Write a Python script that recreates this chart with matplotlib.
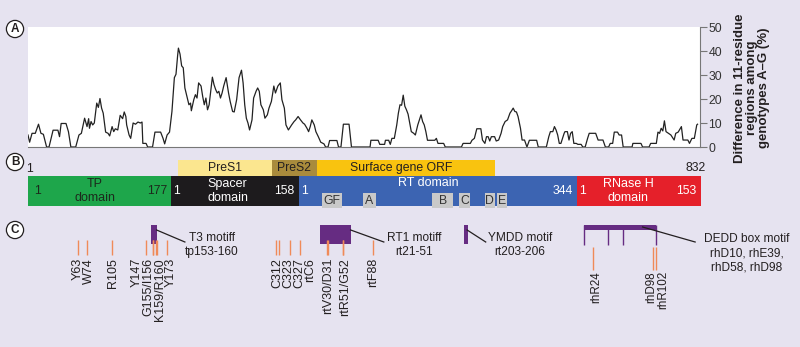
import matplotlib
matplotlib.use("Agg")
import matplotlib.pyplot as plt

plt.rcParams["font.family"] = ["Liberation Sans", "DejaVu Sans"]

# ---- panel A: variability of 11-residue windows along the polymerase ----
pos = [1, 3, 6, 10, 14, 17, 20, 24, 27, 32,
       38, 40, 42, 48, 51, 54, 60, 64, 67, 71,
       74, 76, 77, 79, 81, 83, 86, 88, 90, 92,
       94, 97, 100, 102, 105, 107, 109, 112, 115, 118,
       120, 122, 123, 126, 128, 131, 134, 137, 140, 142,
       143, 147, 149, 155, 158, 165, 168, 170, 173, 176,
       179, 182, 184, 186, 187, 189, 191, 193, 195, 198,
       200, 202, 203, 206, 208, 210, 212, 215, 217, 219,
       221, 223, 225, 227, 229, 231, 233, 235, 237, 239,
       241, 243, 246, 249, 251, 254, 256, 259, 262, 265,
       267, 269, 271, 273, 275, 278, 280, 283, 285, 287,
       289, 292, 294, 297, 299, 302, 305, 307, 310, 313,
       315, 318, 320, 323, 327, 330, 332, 335, 338, 341,
       343, 346, 348, 350, 352, 355, 357, 360, 363, 367,
       369, 372, 374, 383, 385, 388, 391, 398, 401, 424,
       425, 434, 436, 442, 443, 447, 449, 451, 454, 457,
       459, 461, 463, 465, 467, 469, 471, 473, 475, 478,
       480, 483, 485, 487, 489, 491, 493, 495, 504, 506,
       508, 515, 517, 537, 539, 548, 550, 553, 556, 561,
       563, 566, 568, 570, 572, 574, 578, 580, 583, 586,
       588, 591, 594, 597, 599, 601, 603, 605, 607, 610,
       612, 615, 618, 621, 630, 632, 642, 645, 647, 650,
       652, 654, 656, 658, 660, 664, 665, 668, 670, 672,
       674, 676, 679, 681, 685, 687, 690, 693, 695, 700,
       703, 706, 712, 715, 719, 721, 724, 726, 730, 732,
       735, 737, 748, 749, 759, 761, 769, 771, 778, 780,
       782, 784, 786, 788, 790, 793, 796, 800, 802, 805,
       809, 811, 813, 817, 819, 822, 825, 828, 829]
diff = [5.0, 2.0, 5.7, 5.7, 9.5, 5.7, 5.3, 0, 0, 7.0,
        7.0, 4.3, 9.8, 9.8, 6.4, 0, 0, 5.0, 5.7, 12.0,
        8.5, 11.8, 7.8, 10.6, 9.2, 10.0, 18.3, 16.5, 20.2, 16.2,
        14.1, 6.2, 5.7, 4.6, 8.5, 6.4, 7.6, 7.1, 13.2, 11.8,
        14.6, 12.7, 9.2, 5.0, 3.6, 10.0, 9.5, 10.4, 10.0, 10.4,
        1.5, 1.5, 0, 0, 6.2, 6.2, 3.6, 1.3, 5.0, 6.2,
        14.8, 28.9, 30.3, 38.0, 41.2, 38.7, 33.8, 33.0, 24.6, 20.4,
        17.6, 18.3, 15.1, 19.7, 21.8, 20.4, 26.7, 25.4, 21.1, 17.6,
        20.4, 15.5, 17.6, 23.2, 29.1, 26.0, 24.0, 22.5, 23.2, 20.4,
        22.5, 25.4, 28.9, 22.5, 19.0, 14.8, 14.6, 19.7, 28.9, 32.0,
        26.7, 17.6, 12.0, 10.0, 7.1, 11.3, 20.4, 23.2, 24.6, 23.2,
        17.6, 15.5, 12.0, 13.4, 16.2, 19.0, 25.4, 22.5, 25.4, 26.7,
        19.7, 16.2, 9.2, 7.1, 9.2, 10.6, 11.3, 12.7, 11.3, 10.0,
        9.5, 7.8, 6.4, 8.5, 11.3, 9.2, 6.4, 4.3, 2.0, 1.3,
        0, 0, 2.7, 2.7, 0, 0, 9.5, 9.5, 0, 0,
        2.8, 2.8, 1.1, 1.1, 2.8, 2.8, 1.1, 3.6, 3.6, 9.2,
        14.1, 17.6, 17.4, 21.6, 17.0, 15.5, 13.7, 10.0, 6.4, 5.7,
        5.0, 9.2, 11.3, 13.4, 10.6, 9.2, 6.4, 2.8, 2.8, 3.6,
        1.5, 1.5, 0, 0, 1.5, 1.5, 2.8, 3.6, 7.6, 7.6,
        2.9, 1.5, 4.3, 4.3, 2.5, 4.3, 4.3, 2.5, 2.9, 5.7,
        8.5, 10.6, 11.3, 14.1, 15.1, 16.2, 14.8, 14.6, 12.7, 7.8,
        2.9, 2.9, 0, 2.8, 2.8, 0, 0, 4.3, 6.4, 6.4,
        8.5, 7.1, 5.0, 1.5, 1.5, 5.7, 6.4, 6.4, 2.9, 5.7,
        6.4, 1.5, 1.5, 1.1, 1.1, 0, 0, 3.6, 5.7, 5.7,
        5.7, 2.9, 2.9, 0, 0, 1.5, 1.5, 6.2, 6.2, 5.0,
        5.0, 0, 0, 1.5, 1.5, 0, 0, 1.5, 1.5, 6.2,
        5.7, 7.8, 6.7, 10.9, 6.4, 5.7, 5.0, 2.9, 5.7, 6.2,
        8.5, 2.9, 2.9, 2.9, 1.5, 3.6, 3.6, 9.2, 9.5]
y_ticks = [0, 10, 20, 30, 40, 50]
seq_len = 832

# ---- panel B: polymerase domains ----
domain_names = ["TP\ndomain", "Spacer\ndomain", "RT domain", "RNase H\ndomain"]
domain_len = [177, 158, 344, 153]
domain_name_x = [84, 248, 496, 743]
domain_colors = ["#1ea64b", "#1d1b1d", "#3c64b2", "#e5202a"]
domain_text = ["#1c2a1c", "white", "white", "white"]

surface_names = ["PreS1", "PreS2", "Surface gene ORF"]
surface_start = [187, 303, 358]
surface_end = [303, 358, 579]
surface_name_x = [245, 330, 463]
surface_colors = ["#fbe68f", "#a98b3c", "#f9c30f"]

rt_box_letters = ["GF", "A", "B", "C", "D", "E"]
rt_box_start = [365, 415, 501, 534, 566, 581]
rt_box_end = [389, 431, 527, 548, 578, 593]

# ---- panel C: residues and motifs ----
site_lines = [63, 74, 105, 147, 155, 156, 159, 160, 173,
              308, 311, 325, 337, 371, 372, 390, 391, 428]
site_labels = ["Y63", "W74", "R105", "Y147", "G155/I156", "K159/R160", "Y173",
               "C312", "C323", "C327", "rtC6", "rtV30/D31", "rtR51/G52", "rtF88"]
site_label_x = [62, 76, 106, 136, 150, 164, 177, 309, 323, 336, 350, 372, 393, 428]

rh_lines = [700, 774, 778]
rh_labels = ["rhR24", "rhD98", "rhR102"]
rh_label_x = [704, 772, 786]

motif_names = ["T3 motiff\ntp153-160", "RT1 motiff\nrt21-51", "YMDD motif\nrt203-206"]
motif_start = [153, 362, 540]
motif_end = [160, 400, 545]
motif_text_x = [228, 478, 609]
motif_leader = [(160, 195), (400, 441), (544, 567)]

dedd_sites = [689, 718, 737, 777]
dedd_text = "DEDD box motif\nrhD10, rhE39,\nrhD58, rhD98"

BG = "#e6e3f0"
INK = "#231f20"
PURPLE = "#662c82"
ORANGE = "#f08a58"

fig = plt.figure(figsize=(8, 3.47), dpi=100, facecolor=BG)
W, H = 800, 347

# overlay axes: x in residues (1 -> px 28, 832 -> px 700), y in pixel rows
scale = (seq_len - 1) / 672
ov = fig.add_axes([0, 0, 1, 1])
ov.set_xlim(1 - 28 * scale, 1 + 772 * scale)
ov.set_ylim(H, 0)
ov.axis("off")

# panel A
ax = fig.add_axes([28 / W, (H - 147) / H, 672 / W, 120 / H])
ax.set_facecolor("white")
ax.plot(pos, diff, color="#222", lw=0.9)
ax.set_xlim(1, seq_len)
ax.set_ylim(0, 50)
ax.set_xticks([])
ax.yaxis.tick_right()
ax.set_yticks(y_ticks)
ax.tick_params(axis="y", direction="out", length=5, width=0.8, color="#777",
               labelcolor="#333", labelsize=8.8, pad=1)
for side in ("left", "top"):
    ax.spines[side].set_visible(False)
for side in ("right", "bottom"):
    ax.spines[side].set_color("#777")
    ax.spines[side].set_linewidth(0.8)
fig.text(752 / W, 1 - 88 / H,
         "Difference in 11-residue\nregions among\ngenotypes A\u2013G (%)",
         rotation=90, ha="center", va="center", ma="center",
         fontsize=9.5, fontweight="bold", color=INK, linespacing=1.05)

# panel letters
for letter, ypx in zip(["A", "B", "C"], [29, 162, 230]):
    ov.text(1 - 13 * scale, ypx, letter, ha="center", va="center", fontsize=8.5,
            fontweight="bold", color=INK,
            bbox=dict(boxstyle="circle,pad=0.22", fc="white", ec=INK, lw=0.9))

# panel B: surface ORF strip
for name, s, e, c, tx in zip(surface_names, surface_start, surface_end,
                             surface_colors, surface_name_x):
    ov.barh(168, e - s, left=s, height=16, color=c, lw=0)
    ov.text(tx, 168, name, ha="center", va="center", fontsize=8.8, color=INK)

ov.text(3, 169, "1", ha="center", va="center", fontsize=8.8, color=INK)
ov.text(seq_len - 5, 168, str(seq_len), ha="center", va="center",
        fontsize=8.8, color=INK)

# panel B: domain bar
start = 1
for name, n, c, tc, nx in zip(domain_names, domain_len, domain_colors,
                              domain_text, domain_name_x):
    ov.barh(191, n, left=start, height=30, color=c, lw=0)
    ov.text(start + (7 if start == 1 else 3), 191, "1", ha="left", va="center",
            fontsize=8.8, color=tc)
    ov.text(start + n - 5, 191, str(n), ha="right", va="center",
            fontsize=8.8, color=tc)
    ny = 183 if "\n" not in name else 191
    ov.text(nx, ny, name, ha="center", va="center", fontsize=9, color=tc,
            linespacing=1.25)
    start += n

for lab, s, e in zip(rt_box_letters, rt_box_start, rt_box_end):
    ov.barh(200.5, e - s, left=s, height=15, color="#c9c9c9", lw=0)
    ov.text((s + e) / 2, 201, lab, ha="center", va="center", fontsize=8.8,
            color="#333")

# panel C: orange residue ticks + rotated labels
ov.vlines(site_lines, 240, 255, color=ORANGE, lw=1.0)
for lab, x in zip(site_labels, site_label_x):
    ov.text(x, 258, lab, rotation=90, ha="center", va="top", fontsize=9.0,
            color=INK)
ov.vlines(rh_lines, 247, 270, color=ORANGE, lw=1.0)
for lab, x in zip(rh_labels, rh_label_x):
    ov.text(x, 271, lab, rotation=90, ha="center", va="top", fontsize=8.4,
            color=INK)

# panel C: motif boxes
for name, s, e, tx, (l0, l1) in zip(motif_names, motif_start, motif_end,
                                   motif_text_x, motif_leader):
    ov.barh(234.5, e - s, left=s, height=19, color=PURPLE, lw=0)
    ov.plot([l0, l1], [230, 242], color=INK, lw=0.9)
    ov.text(tx, 245, name, ha="center", va="center", fontsize=8.6, color=INK,
            linespacing=1.25)

ov.barh(227.5, dedd_sites[-1] - dedd_sites[0], left=dedd_sites[0], height=5,
        color=PURPLE, lw=0)
ov.vlines(dedd_sites, 225, 245, color=PURPLE, lw=1.0)
ov.plot([761, 826], [227, 242], color=INK, lw=0.9)
ov.text(890, 253, dedd_text, ha="center", va="center", fontsize=8.6,
        color=INK, linespacing=1.25)

fig.savefig("out.png", dpi=100, facecolor=BG)
